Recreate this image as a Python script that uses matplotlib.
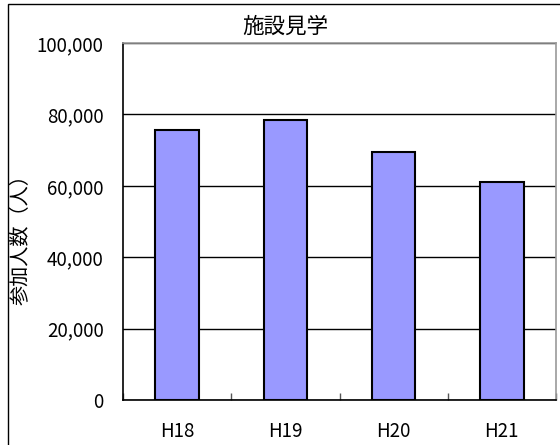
import matplotlib
matplotlib.use("Agg")
import matplotlib.pyplot as plt
from matplotlib.patches import Rectangle
from matplotlib.ticker import FuncFormatter, FixedLocator
import numpy as np

plt.rcParams['font.family'] = ['Noto Sans CJK JP', 'DejaVu Sans']

categories = ["H18", "H19", "H20", "H21"]
participants = [75500, 78300, 69400, 61000]
y_ticks = [0, 20000, 40000, 60000, 80000, 100000]
title = "施設見学"
y_label = "参加人数（人）"

W, H, DPI = 560, 445, 100
fig = plt.figure(figsize=(W / DPI, H / DPI), dpi=DPI)

# outer chart-area frame
fig.patches.append(Rectangle((8 / W, -0.05), 1.2, 1 - 4 / H + 0.05,
                             transform=fig.transFigure, fill=False,
                             edgecolor="black", linewidth=1.0))

ax = fig.add_axes([123 / W, 1 - 400 / H, (556 - 123) / W, (400 - 43) / H])

x = np.arange(len(categories))
ax.bar(x, participants, width=0.4, color="#9999FF", edgecolor="black",
       linewidth=1.5, zorder=3)

ax.set_xlim(-0.5, len(categories) - 0.5)
ax.set_ylim(0, 100000)
ax.set_yticks(y_ticks)
ax.yaxis.set_major_formatter(FuncFormatter(lambda v, p: f"{int(v):,}"))
ax.grid(axis="y", color="black", linewidth=1.0, zorder=1)

ax.set_xticks(x)
ax.set_xticklabels(categories)
ax.xaxis.set_minor_locator(FixedLocator(np.arange(len(categories) + 1) - 0.5))
ax.tick_params(axis="x", which="major", length=0, pad=15, labelsize=13.5)
ax.tick_params(axis="x", which="minor", direction="in", length=5,
               width=1, color="#555555")
ax.tick_params(axis="y", length=0, pad=14, labelsize=13.5)

for side in ("left", "bottom"):
    ax.spines[side].set_color("black")
    ax.spines[side].set_linewidth(1.2)
for side in ("top", "right"):
    ax.spines[side].set_color("#999999")
    ax.spines[side].set_linewidth(1.2)

fig.text(285 / W, 1 - 27 / H, title, ha="center", va="center", fontsize=15.5)
fig.text(21 / W, 1 - 235 / H, y_label, ha="center", va="center",
         rotation=90, fontsize=14.5)

fig.savefig("out.png", dpi=DPI)
